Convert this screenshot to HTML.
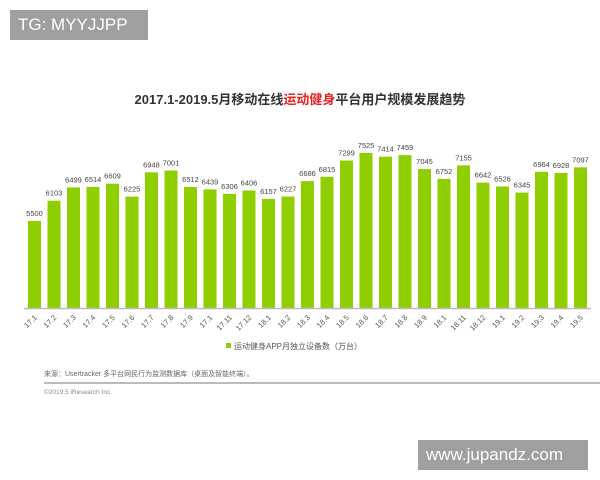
<!DOCTYPE html><html><head><meta charset="utf-8"><style>
body{margin:0;width:600px;height:480px;background:#fff;position:relative;overflow:hidden;font-family:"Liberation Sans","Noto Sans CJK SC",sans-serif}
.wm{position:absolute;background:#9a9a9a;color:#fff;font-size:17px;line-height:30px;padding-left:8px;opacity:.95}
</style></head><body>
<svg width="600" height="480" style="position:absolute;left:0;top:0" font-family="Liberation Sans, Noto Sans CJK SC, sans-serif">
<text x="300" y="104" text-anchor="middle" font-size="13" font-weight="bold" fill="#333">2017.1-2019.5月移动在线<tspan fill="#e8231f">运动健身</tspan>平台用户规模发展趋势</text>
<g id="bars"></g>
<line x1="24" y1="308.5" x2="591" y2="308.5" stroke="#bbb" stroke-width="1.5"/>
<rect x="226" y="343" width="5" height="5" fill="#8fce00"/>
<text x="234" y="349" font-size="8" fill="#555">运动健身APP月独立设备数（万台）</text>
<text x="44" y="376" font-size="7" fill="#666">来源：Usertracker 多平台网民行为监测数据库（桌面及智能终端）。</text>
<line x1="44" y1="383" x2="600" y2="383" stroke="#777" stroke-width="1"/>
<text x="44" y="394" font-size="6.5" fill="#888">©2019.5 iResearch Inc.</text>
</svg>
<div class="wm" style="left:10px;top:10px;width:130px;height:30px">TG: MYYJJPP</div>
<div class="wm" style="left:418px;top:440px;width:162px;height:30px">www.jupandz.com</div>
<script>
var v=[5500,6103,6499,6514,6609,6225,6948,7001,6512,6439,6306,6406,6157,6227,6686,6815,7299,7525,7414,7459,7045,6752,7155,6642,6526,6345,6964,6928,7097];
var l=["17.1","17.2","17.3","17.4","17.5","17.6","17.7","17.8","17.9","17.1","17.11","17.12","18.1","18.2","18.3","18.4","18.5","18.6","18.7","18.8","18.9","18.1","18.11","18.12","19.1","19.2","19.3","19.4","19.5"];
var s="";
for(var i=0;i<29;i++){var cx=34.5+i*19.5,h=(v[i]-2910)*0.0336,y=308-h;
s+='<rect x="'+(cx-6.5)+'" y="'+y+'" width="13" height="'+h+'" fill="#8fce00"/>';
s+='<text x="'+cx+'" y="'+(y-5)+'" font-size="7.5" text-anchor="middle" fill="#444">'+v[i]+'</text>';
s+='<text transform="translate('+(cx+3)+',318) rotate(-45)" font-size="7.5" text-anchor="end" fill="#555">'+l[i]+'</text>';}
document.getElementById("bars").innerHTML=s;
</script>
</body></html>
